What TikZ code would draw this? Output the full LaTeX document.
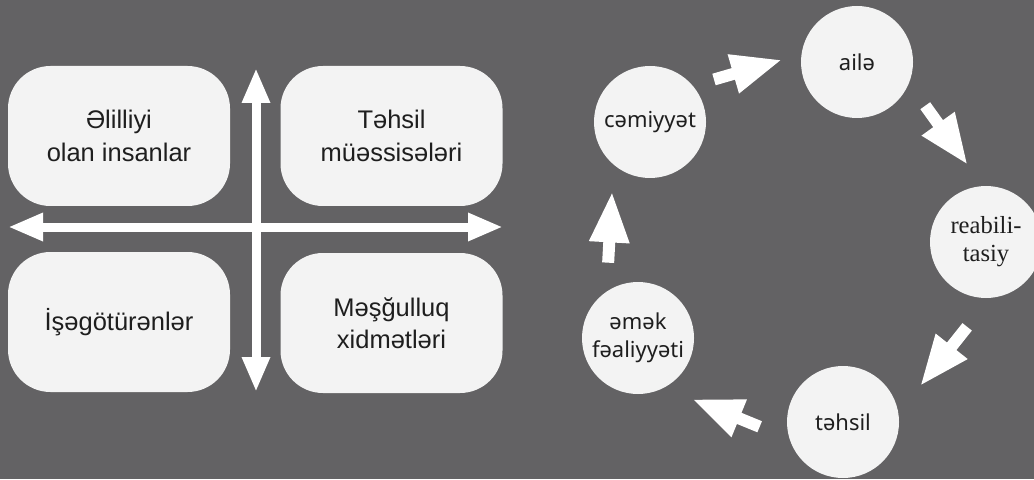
\documentclass[tikz,border=0pt]{standalone}
\usepackage{fontspec}
\setmainfont{Liberation Sans}
\newfontfamily\roundfont{Noto Sans}
\newfontfamily\timesfont{Liberation Serif}
\usetikzlibrary{arrows.meta,calc}
\definecolor{bggray}{HTML}{636264}
\definecolor{boxwhite}{HTML}{F3F3F3}
\definecolor{inkdark}{HTML}{1E1E1E}

\begin{document}
\begin{tikzpicture}[
    quad/.style={fill=boxwhite, rounded corners=0.85cm, minimum width=4.44cm, minimum height=2.8cm, align=center, text=inkdark, font=\fontsize{14.5}{18.5}\selectfont},
    stage/.style={circle, fill=boxwhite, minimum size=2.24cm, inner sep=0pt, align=center, text=inkdark, font=\roundfont\fontsize{12.5}{16}\selectfont},
    axis/.style={white, line width=0.18cm, {Triangle[width=0.52cm,length=0.7cm]}-{Triangle[width=0.52cm,length=0.7cm]}},
    cyc/.style={white, line width=0.24cm, -{Triangle[width=0.74cm,length=1.02cm]}}
  ]
  \clip (0,0) rectangle (20.68,9.58);
  \fill[bggray] (0,0) rectangle (20.68,9.58);

  % four partners
  \node[quad] (people) at (2.38,6.86) {Əlilliyi\\olan insanlar};
  \node[quad] (school) at (7.83,6.86) {Təhsil\\müəssisələri};
  \node[quad] (employer) at (2.38,3.14) {İşəgötürənlər};
  \node[quad] (service) at (7.83,3.12) {Məşğulluq\\xidmətləri};

  \coordinate (top) at (5.12,8.22);
  \coordinate (bottom) at (5.12,1.74);
  \coordinate (left) at (0.16,5.04);
  \coordinate (right) at (10.06,5.04);
  \draw[axis] (bottom) -- (top);
  \draw[axis] (left) -- (right);

  % cycle
  \node[stage] (aile) at (17.14,8.34) {ailə};
  \node[stage, font=\timesfont\fontsize{14}{16}\selectfont] (reab) at (19.72,4.74) {reabili-\\tasiy};
  \node[stage] (tehsil) at (16.86,1.14) {təhsil};
  \node[stage] (emek) at (12.76,2.82) {əmək\\fəaliyyəti};
  \node[stage] (cem) at (13.00,7.14) {cəmiyyət};

  \foreach \a/\b/\d in {cem/aile/0.46, aile/reab/0.6, reab/tehsil/0.76, tehsil/emek/0.72, emek/cem/0.68}
    \draw[cyc] ($(\a)!0.34!(\b)!\d cm!90:(\b)$) -- ($(\a)!0.67!(\b)!\d cm!90:(\b)$);
\end{tikzpicture}
\end{document}
